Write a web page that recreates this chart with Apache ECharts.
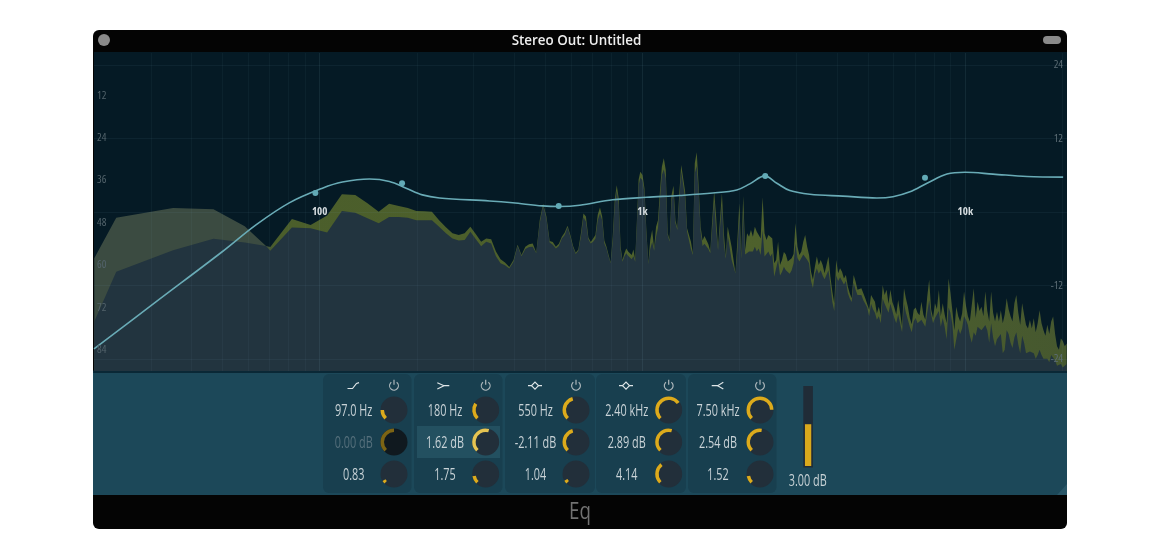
<!DOCTYPE html>
<html><head><meta charset="utf-8">
<style>html,body{margin:0;padding:0;background:#fff}#c{width:1160px;height:560px}</style>
<script src="https://cdn.jsdelivr.net/npm/echarts@6/dist/echarts.min.js"></script>
</head><body><div id="c"></div>
<script>
// ---- spectrum, low band: analyser bin numbers (1 bin = 11.72 Hz) and levels (dB below full scale)
const binWidthHz = 11.72;
const lowBins = [1.71,2,3,4,5,5.82,6,7,8,9,10,11,12,13,14,15,16,17,18,19,20,21,22,23,24,25,26,27,28,29,
 30,31,32,33,34,35,36,37,38,39,40,41,42,43,44,45,46,47,48,49,50,51,52,53,54,55,56,57,58,59,
 60,61,62,63,64,65,66,67,68,69,70,71,72,73,74,75,76,77,78,79,80,81,82,83,84];
const lowPeak = [58.1,46.6,43.9,44.2,49.0,54.6,54.9,47.0,48.7,46.0,40.0,40.2,42.5,44.9,42.7,43.3,43.9,44.7,44.8,44.9,47.3,49.3,51.0,51.5,51.0,49.2,51.3,53.4,52.5,52.7,
 56.2,58.4,59.3,60.6,58.6,54.3,57.2,54.8,54.1,53.9,56.5,47.3,42.7,46.3,53.2,53.5,54.8,54.0,52.0,50.8,48.9,51.5,54.6,56.5,55.6,51.0,45.4,46.3,52.2,53.5,
 52.5,51.5,45.8,43.7,46.3,53.1,54.8,57.2,59.3,52.0,41.6,37.4,41.1,54.8,58.6,56.7,55.3,56.2,55.8,57.2,55.6,58.6,47.3,35.9,33.6];
const lowAvg = [76.0,61.9,55.8,52.6,53.6,54.6,56.0,49.4,49.6,50.8,44.7,45.2,46.8,48.2,46.4,46.4,46.6,47.3,47.3,47.3,49.2,51.0,52.5,53.1,52.9,50.6,52.7,54.7,53.4,53.9,
 57.5,59.5,60.1,61.0,59.1,54.6,57.5,55.5,54.9,54.8,56.7,48.2,43.1,46.9,53.6,54.3,55.3,54.6,52.5,51.5,49.3,52.0,55.0,56.9,56.0,52.0,46.5,47.7,52.7,53.9,
 53.4,52.5,47.3,45.4,47.3,53.9,55.3,57.6,59.5,53.4,43.0,39.0,43.0,55.8,59.1,57.6,56.7,57.4,56.9,58.4,57.5,59.1,48.2,37.5,35.3];
// ---- spectrum, high band: levels from 1 kHz upward, one reading every 0.006 decade
const highStartHz = 1000, highStepDecades = 0.006;
const highPeak = [34.5,38.3,50.1,59.5,52.9,50.1,55.3,49.2,47.3,39.2,32.2,29.8,33.1,51.0,52.9,40.2,37.6,47.3,49.6,39.7,31.7,31.9,39.2,49.6,51.5,53.4,56.7,31.2,28.1,37.8,
 49.2,53.1,51.8,52.0,54.1,56.2,47.3,39.2,46.3,55.3,47.3,39.7,51.0,57.6,49.2,52.0,54.8,54.3,62.4,52.9,42.5,57.6,40.5,55.8,51.0,52.0,50.1,52.0,49.2,50.6,
 51.5,52.5,40.8,51.0,52.9,51.5,52.0,52.5,59.5,58.6,
 53.4,60.0,58.6,56.3,57.0,59.0,59.5,58.1,56.9,48.2,54.8,57.2,56.2,53.4,51.5,54.8,57.2,61.9,64.2,60.5,57.6,60.0,58.6,60.0,62.3,62.8,57.6,63.3,67.5,70.9,
 58.6,62.3,60.9,61.9,63.8,62.8,66.1,68.0,69.4,62.8,64.7,67.0,66.6,66.6,68.0,69.4,69.9,72.7,68.5,69.5,70.4,73.7,71.8,74.2,65.7,68.5,67.0,71.0,67.0,70.5,
 72.0,74.0,69.9,73.5,77.4,66.6,69.5,71.8,75.0,76.8,72.7,72.0,73.5,74.2,
 70.4,74.0,75.5,69.0,64.2,72.5,75.0,70.8,72.5,67.1,74.5,70.8,74.0,76.5,63.8,68.0,73.0,78.5,71.8,74.5,76.0,73.7,67.5,71.5,74.5,76.0,71.3,66.6,75.0,70.4,
 73.0,71.8,74.5,67.5,73.0,76.0,67.5,73.5,76.0,73.2,76.0,72.8,76.5,74.0,69.4,72.5,74.5,76.0,70.8,68.5,73.5,77.0,70.8,74.0,77.0,78.0,75.6,78.0,75.1,79.0,
 76.5,72.8,76.5,78.5,80.0,76.9,79.5,76.0,74.6,79.5,83.0,84.0,80.8,81.5,83.0,82.2];
const highAvg = [36.0,39.5,51.0,59.7,55.5,53.5,56.0,52.0,49.5,41.5,34.5,33.0,35.5,51.5,53.4,42.0,39.5,48.2,50.1,41.5,33.5,33.5,41.0,50.5,53.0,55.5,57.2,34.0,32.0,39.5,
 50.5,54.6,54.0,54.0,55.5,56.7,49.5,42.0,50.0,55.8,49.5,43.0,54.0,58.2,51.5,55.0,58.5,58.0,62.4,56.0,46.0,58.2,45.0,57.0,57.2,56.2,56.7,56.2,54.8,56.2,
 55.3,57.2,50.1,57.6,58.1,56.2,57.6,56.7,63.3,63.3,
 58.5,63.0,62.0,60.5,61.5,61.0,62.5,61.5,59.5,54.0,58.0,59.0,58.5,57.0,56.5,58.5,59.5,64.5,66.5,62.5,61.0,62.5,61.5,63.0,64.0,64.5,61.5,65.5,70.5,73.0,
 63.0,64.5,63.5,63.5,65.5,64.5,68.0,69.5,70.5,65.0,67.0,68.5,68.5,68.5,70.0,71.0,72.0,74.5,71.0,72.5,73.5,75.5,74.5,76.5,69.5,71.0,70.5,73.5,71.0,73.0,
 75.0,76.5,74.0,76.5,79.0,71.0,73.5,75.5,77.5,79.0,76.0,75.0,76.5,76.5,
 75.5,76.5,77.5,73.5,70.0,74.0,76.5,75.0,75.5,73.0,77.5,75.0,77.5,81.0,72.0,73.5,77.0,84.0,81.0,78.0,79.5,78.0,74.5,75.5,77.0,80.0,82.0,79.0,80.0,77.5,
 77.0,78.5,78.0,77.0,78.5,82.0,76.5,80.5,83.0,81.0,81.0,79.5,85.0,84.0,78.5,79.5,82.0,83.5,80.5,79.0,82.5,85.0,80.0,82.0,85.0,85.5,84.5,85.0,85.0,86.5,
 85.5,84.0,85.5,86.5,87.0,86.5,87.5,85.5,85.0,87.0,88.5,89.0,88.0,89.0,89.0,88.0];
// ---- EQ response curve (Hz, dB gain)
const eqHz = [20,31.1,49.9,63.5,80.5,102,117.6,142.6,164.5,185.3,208,235,336,396,490,554,639,808,1030,1304,1651,1959,2150,2393,2607,2860,3300,4175,5323,5967,6738,7608,8773,9977,12180,15530,20090];
const eqGain = [-22.4,-14.7,-6.5,-2.1,1.5,3.9,4.9,5.4,5.0,3.9,2.8,2.3,1.8,1.5,1.0,0.9,1.1,2.0,2.4,2.7,3.1,3.6,4.6,5.9,4.7,3.5,2.9,2.6,2.3,2.5,3.3,4.7,6.2,6.5,6.2,5.8,5.7];
// ---- EQ band handles
const bandHz = [97,180,550,2400,7500];
const bandHandleGain = [3.1,4.7,1.0,5.9,5.6];
// ---- control panel
const freqLabels = ['97.0 Hz','180 Hz','550 Hz','2.40 kHz','7.50 kHz'];
const gainLabels = ['0.00 dB','1.62 dB','-2.11 dB','2.89 dB','2.54 dB'];
const qLabels = ['0.83','1.75','1.04','4.14','1.52'];
const freqKnobs = [0.167,0.285,0.44,0.70,0.83];
const gainKnobs = [0.5,0.555,0.44,0.555,0.53];
const qKnobs = [0.05,0.13,0.055,0.36,0.13];
const outputGainDb = 3.0;
const outputGainLabel = '3.00 dB';
// ---- axes
const spectrumTicks = [12,24,36,48,60,72,84];
const gainTicks = [24,12,0,-12,-24];
const gridHzMajor = [100,1000,10000];
const gridHzMinor = [30,40,50,60,70,80,90,200,300,400,500,600,700,800,900,2000,3000,4000,5000,6000,7000,8000,9000,20000];
const freqTickText = {100:'100',1000:'1k',10000:'10k'};
const titleText = 'Stereo Out: Untitled';
const footerText = 'Eq';

const FONT = '"Open Sans"';
const chart = echarts.init(document.getElementById('c'), null, {renderer:'canvas'});

const spectrumHz = lowBins.map(b => b*binWidthHz).concat(highPeak.map((_,i)=> highStartHz*Math.pow(10,i*highStepDecades)));
const allPeak = lowPeak.concat(highPeak), allAvg = lowAvg.concat(highAvg);
const peakData = spectrumHz.map((h,i)=>[h, allPeak[i]]);
const avgData = spectrumHz.map((h,i)=>[h, allAvg[i]]);
const eqData = eqHz.map((h,i)=>[h,eqGain[i]]);
const handleData = bandHz.map((h,i)=>[h,bandHandleGain[i]]);

// layout of control strip
const panelX = [[323,411.5],[414,502.5],[505,595],[596,686],[688,776.5]];
const knobCx = [394,485.7,576,668.7,760];
const textCx = [353.7,445,535.5,626.7,718];
const rowY = [410,442,474];
const textDy = 1.5;
const iconY = 385.7;

const g = [];
const rect=(x,y,w,h,fill,r,z)=>g.push({type:'rect',z:z||0,silent:true,shape:{x,y,width:w,height:h,r:r||0},style:{fill}});
const text=(t,x,y,font,fill,sx)=>g.push({type:'text',z:4,silent:true,x,y,scaleX:sx||1,style:{text:t,font,fill,align:'center',verticalAlign:'middle'}});
const poly=(pts,stroke)=>g.push({type:'polyline',z:4,silent:true,shape:{points:pts},style:{stroke,fill:null,lineWidth:1.2}});

rect(93,30,974,499,'#040404',6,0);
rect(94,52,973,319,'#051a25',0,0);
rect(93,373,974,122,'#1c4859',0,0);
rect(93,370.5,974,2.5,'#0a2836',0,1);
g.push({type:'circle',z:1,silent:true,shape:{cx:104,cy:40,r:6},style:{fill:'#8a8a8a'}});
rect(1043,36,18,8,'#8a8a8a',4,1);
text(titleText,576.5,41,'600 13.4px '+FONT,'#eeeeee');
text(footerText,580,512.5,'24px '+FONT,'#727272',0.78);
g.push({type:'polygon',z:1,silent:true,shape:{points:[[1067,484],[1067,495],[1057,495]]},style:{fill:'#2a5768'}});

panelX.forEach(p=>rect(p[0],374,p[1]-p[0],119,'#183f4f',6,1));
rect(417,426,83,32,'#235060',0,2);

const VAL='15.5px '+FONT, VS=0.7;
[freqLabels,gainLabels,qLabels].forEach((row,r)=>row.forEach((t,i)=>{
  const off = (r===1&&i===0);
  text(t,textCx[i],rowY[r]+textDy,VAL,off?'#56707c':'#c9d3d7',VS);
  g.push({type:'circle',z:2,silent:true,shape:{cx:knobCx[i],cy:rowY[r],r:13.5},style:{fill:off?'#10191f':'#222f3a'}});
}));
knobCx.forEach(cx=>{
  g.push({type:'arc',z:4,silent:true,shape:{cx,cy:iconY,r:4.4,startAngle:-Math.PI/2+0.65,endAngle:Math.PI*1.5-0.65,clockwise:true},style:{stroke:'#aeb8bc',fill:null,lineWidth:1.2}});
  g.push({type:'line',z:4,silent:true,shape:{x1:cx,y1:iconY-6,x2:cx,y2:iconY-1},style:{stroke:'#aeb8bc',lineWidth:1.2}});
});
const IC='#dfe6e8';
poly([[347.5,388.5],[352.5,388.5],[356.5,383.5],[359,382.6]],IC);
poly([[437.3,382.7],[444,385.7],[449.3,385.7]],IC); poly([[437.3,389],[444,385.7]],IC);
[535,626].forEach(c=>{poly([[c-7,iconY],[c-3.5,iconY],[c,iconY-3.5],[c+3.5,iconY],[c+7,iconY]],IC);poly([[c-3.5,iconY],[c,iconY+3.5],[c+3.5,iconY]],IC);});
poly([[711.7,385.7],[717.7,385.7],[723.3,382.3]],IC); poly([[717.7,385.7],[723.3,389]],IC);
rect(803.3,386,9.6,81.5,'#202c37',0,1);
text(outputGainLabel,807.7,481.5,VAL,'#c9d3d7',VS);

const knob=(value,i,r)=>{
  const off=(r===1&&i===0), hi=(r===1&&i===1);
  return {type:'gauge',z:3,center:[knobCx[i],rowY[r]],radius:13.5,startAngle:225,endAngle:-45,min:0,max:1,silent:true,
    pointer:{show:false},axisLine:{show:false},axisTick:{show:false},splitLine:{show:false},axisLabel:{show:false},
    anchor:{show:false},title:{show:false},detail:{show:false},
    progress:{show:true,width:3.5,roundCap:false,itemStyle:{color:off?'#7c6414':hi?'#e5c452':'#dcab1c'}},
    data:[{value}]};
};
const knobs=[];
[freqKnobs,gainKnobs,qKnobs].forEach((row,r)=>row.forEach((v,i)=>knobs.push(knob(v,i,r))));

const vLine=(v,c)=>({xAxis:v,lineStyle:{color:c,width:1,type:'solid'}});
chart.setOption({
  animation:false,
  backgroundColor:'#fff',
  graphic:{elements:g},
  grid:[{left:94,width:973,top:53,height:318},{left:803.3,width:9.6,top:388,height:78}],
  xAxis:[
    {type:'log',logBase:10,min:20,max:20650,gridIndex:0,z:10,position:'bottom',offset:-159,
     axisLine:{show:false,onZero:false},axisTick:{show:false},splitLine:{show:false},minorTick:{show:false},
     axisLabel:{show:true,hideOverlap:false,showMinLabel:false,showMaxLabel:false,margin:-6,color:'#d5dcdf',fontFamily:FONT,fontStyle:'condensed',fontWeight:'bold',fontSize:11,
       formatter:v=>freqTickText[Math.round(v)]||''}},
    {type:'category',gridIndex:1,data:[outputGainLabel],show:false}
  ],
  yAxis:[
    {type:'value',inverse:true,min:0,max:90,interval:12,gridIndex:0,position:'left',z:10,
     axisLine:{show:false},axisTick:{show:false},splitLine:{show:false},
     axisLabel:{inside:true,margin:3,color:'#53636b',fontFamily:FONT,fontStyle:'condensed',fontSize:11,formatter:v=>spectrumTicks.includes(v)?String(v):''}},
    {type:'value',min:-26,max:26,gridIndex:0,position:'right',z:10,
     axisLine:{show:false},axisTick:{show:false,customValues:gainTicks},splitLine:{show:false},
     axisLabel:{inside:true,margin:4,color:'#5d6d75',fontFamily:FONT,fontStyle:'condensed',fontSize:11,customValues:gainTicks,formatter:v=>v===0?'':String(v)}},
    {type:'value',min:0,max:5.6,gridIndex:1,show:false}
  ],
  series:[
    {name:'Peak',type:'line',xAxisIndex:0,yAxisIndex:0,z:2,data:peakData,showSymbol:false,silent:true,clip:true,
     lineStyle:{width:0},
     areaStyle:{origin:'end',opacity:1,color:new echarts.graphic.LinearGradient(0,0,1,0,[
       {offset:0,color:'#3b4b41'},{offset:0.172,color:'#3b4b41'},{offset:0.185,color:'#4b5e2b'},{offset:0.7,color:'#4e612c'},{offset:1,color:'#46582f'}])}},
    {name:'Average',type:'line',xAxisIndex:0,yAxisIndex:0,z:3,data:avgData,showSymbol:false,silent:true,clip:true,
     lineStyle:{width:0},areaStyle:{origin:'end',opacity:1,color:'#22343f'}},
    {name:'EQ',type:'line',xAxisIndex:0,yAxisIndex:1,z:5,data:eqData,smooth:0.35,showSymbol:false,silent:true,clip:true,
     lineStyle:{width:1.6,color:'#69abb6'},
     markLine:{silent:true,symbol:'none',label:{show:false},animation:false,z:4,
       data:gridHzMajor.map(v=>vLine(v,'rgba(125,175,195,0.11)'))
         .concat(gridHzMinor.map(v=>vLine(v,'rgba(125,175,195,0.06)')))
         .concat(gainTicks.map(v=>({yAxis:v,lineStyle:{color:'rgba(125,175,195,0.07)',width:1,type:'solid'}})))}},
    {name:'Bands',type:'scatter',xAxisIndex:0,yAxisIndex:1,z:6,data:handleData,symbolSize:6,silent:true,itemStyle:{color:'#62aab6',opacity:1}},
    {name:'Output',type:'bar',xAxisIndex:1,yAxisIndex:2,z:3,barWidth:6.3,data:[outputGainDb],silent:true,itemStyle:{color:'#d9a91c'}}
  ].concat(knobs)
});
</script></body></html>
